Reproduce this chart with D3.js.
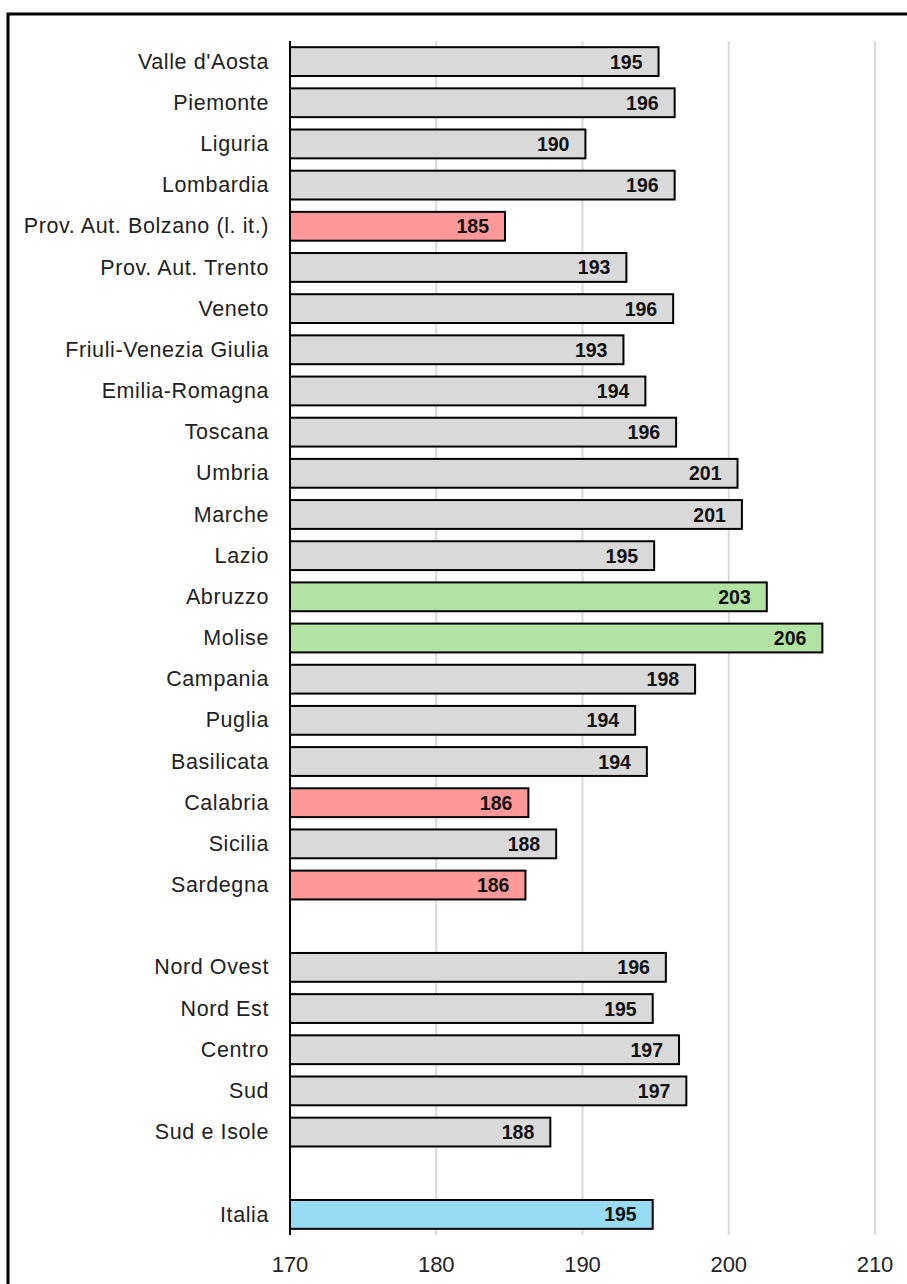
<!DOCTYPE html>
<meta charset="utf-8">
<style>
body { margin: 0; background: #fff; }
text { font-family: "Liberation Sans", Arial, sans-serif; }
.grid line { stroke: #d9d9d9; stroke-width: 2px; }
.bars rect { stroke: #000; stroke-width: 2px; }
</style>
<svg width="907" height="1284"></svg>
<script src="https://d3js.org/d3.v7.min.js"></script>
<script>
// categories top to bottom, "" entries are blank spacer rows
var regions = ["Valle d'Aosta", "Piemonte", "Liguria", "Lombardia", "Prov. Aut. Bolzano (l. it.)",
  "Prov. Aut. Trento", "Veneto", "Friuli-Venezia Giulia", "Emilia-Romagna", "Toscana", "Umbria",
  "Marche", "Lazio", "Abruzzo", "Molise", "Campania", "Puglia", "Basilicata", "Calabria", "Sicilia", "Sardegna"];
var regionValues = [195.2, 196.3, 190.2, 196.3, 184.7, 193.0, 196.2, 192.8, 194.3, 196.4, 200.6,
  200.9, 194.9, 202.6, 206.4, 197.7, 193.6, 194.4, 186.3, 188.2, 186.1];
var areas = ["Nord Ovest", "Nord Est", "Centro", "Sud", "Sud e Isole"];
var areaValues = [195.7, 194.8, 196.6, 197.1, 187.8];
var national = ["Italia"];
var nationalValues = [194.8];
var lowGroup = ["Prov. Aut. Bolzano (l. it.)", "Calabria", "Sardegna"];
var highGroup = ["Abruzzo", "Molise"];
var xTicks = [170, 180, 190, 200, 210];

var rows = [];
regions.forEach(function(r, i) { rows.push({name: r, value: regionValues[i]}); });
rows.push({name: "gap1", value: null});
areas.forEach(function(r, i) { rows.push({name: r, value: areaValues[i]}); });
rows.push({name: "gap2", value: null});
national.forEach(function(r, i) { rows.push({name: r, value: nationalValues[i]}); });

var svg = d3.select("svg");

// outer frame
svg.append("rect")
    .attr("x", 8).attr("y", 14)
    .attr("width", 920).attr("height", 1300)
    .attr("fill", "none")
    .attr("stroke", "#000")
    .attr("stroke-width", 3);

var x = d3.scaleLinear().domain([170, 210]).range([290, 875]);
var y = d3.scaleBand()
    .domain(rows.map(function(d) { return d.name; }))
    .range([41, 1235])
    .paddingInner(0.3)
    .paddingOuter(0.15);

function colorOf(d) {
  if (d.name == "Italia") return "#97dbf5";
  if (lowGroup.indexOf(d.name) >= 0) return "#ff9999";
  if (highGroup.indexOf(d.name) >= 0) return "#b3e3a3";
  return "#d9d9d9";
}

svg.append("g")
    .attr("class", "grid")
    .selectAll("line")
    .data(xTicks.slice(1))
    .enter().append("line")
    .attr("x1", function(d) { return x(d); })
    .attr("x2", function(d) { return x(d); })
    .attr("y1", 41).attr("y2", 1235);

var data = rows.filter(function(d) { return d.value != null; });

svg.append("g")
    .attr("class", "bars")
    .selectAll("rect")
    .data(data)
    .enter().append("rect")
    .attr("x", x(170))
    .attr("y", function(d) { return y(d.name); })
    .attr("width", function(d) { return x(d.value) - x(170); })
    .attr("height", y.bandwidth())
    .attr("fill", colorOf);

svg.append("g")
    .selectAll("text")
    .data(data)
    .enter().append("text")
    .attr("x", function(d) { return x(d.value) - 16; })
    .attr("y", function(d) { return y(d.name) + y.bandwidth() / 2; })
    .attr("dy", "0.36em")
    .attr("text-anchor", "end")
    .attr("font-size", "19.5px")
    .attr("font-weight", "bold")
    .attr("fill", "#111")
    .text(function(d) { return Math.round(d.value); });

// category labels
svg.append("g")
    .selectAll("text")
    .data(data)
    .enter().append("text")
    .attr("x", 269)
    .attr("y", function(d) { return y(d.name) + y.bandwidth() / 2; })
    .attr("dy", "0.33em")
    .attr("text-anchor", "end")
    .attr("font-size", "21.5px")
    .attr("letter-spacing", "0.6px")
    .attr("fill", "#222")
    .text(function(d) { return d.name; });

// vertical axis line
svg.append("line")
    .attr("x1", x(170)).attr("x2", x(170))
    .attr("y1", 41).attr("y2", 1235)
    .attr("stroke", "#000").attr("stroke-width", 2);

// x tick labels
svg.append("g")
    .selectAll("text")
    .data(xTicks)
    .enter().append("text")
    .attr("x", function(d) { return x(d); })
    .attr("y", 1272)
    .attr("text-anchor", "middle")
    .attr("font-size", "22px")
    .attr("fill", "#222")
    .text(function(d) { return d; });
</script>
